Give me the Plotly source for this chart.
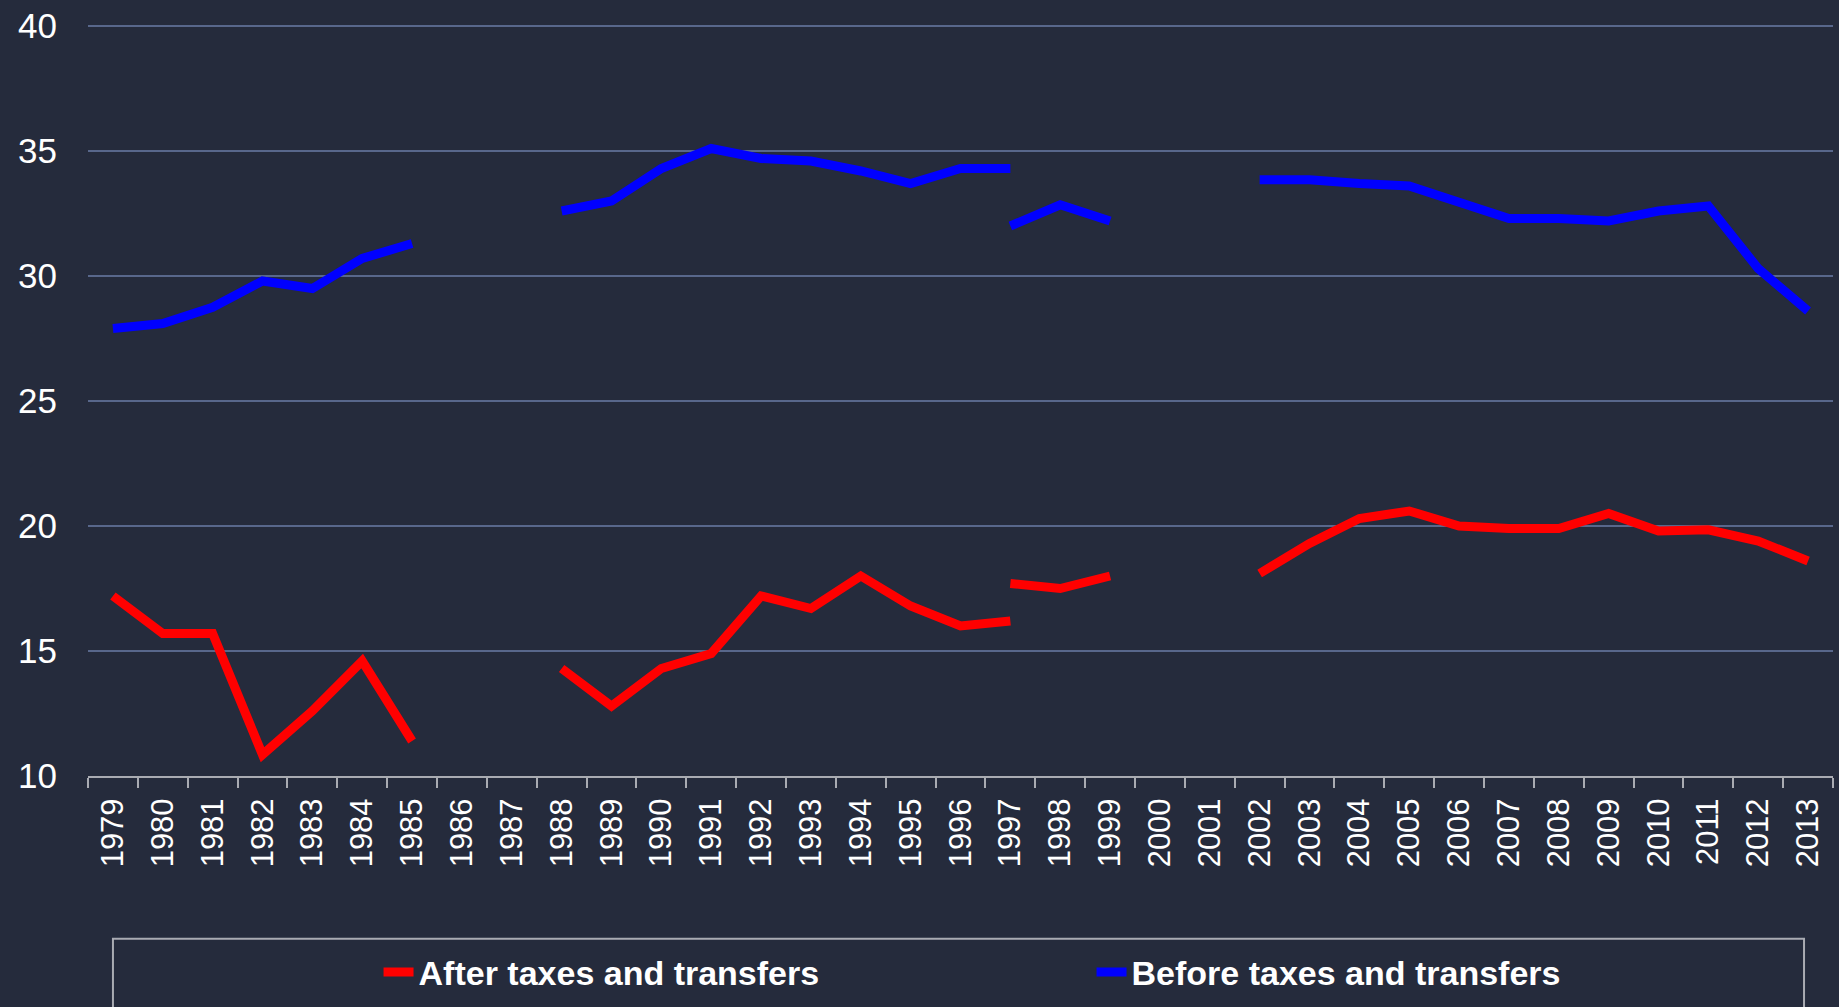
import plotly.graph_objects as go

years = [str(y) for y in range(1979, 2014)]

# First run of each series: 1979-1997 (gap 1986-1987)
years_a = [str(y) for y in range(1979, 1998)]
red_a = [17.2, 15.7, 15.7, 10.85, 12.6, 14.6, 11.4, None, None,
         14.3, 12.8, 14.3, 14.9, 17.2, 16.7, 18.0, 16.8, 16.0, 16.2]
blue_a = [27.9, 28.1, 28.75, 29.8, 29.5, 30.7, 31.3, None, None,
          32.6, 33.0, 34.3, 35.1, 34.7, 34.6, 34.2, 33.7, 34.3, 34.3]

# Second run: 1997-2013 (gap 2000-2001)
years_b = [str(y) for y in range(1997, 2014)]
red_b = [17.7, 17.5, 18.0, None, None,
         18.1, 19.3, 20.3, 20.6, 20.0, 19.9, 19.9, 20.5, 19.8, 19.85, 19.4, 18.6]
blue_b = [32.0, 32.85, 32.2, None, None,
          33.85, 33.85, 33.7, 33.6, 32.95, 32.3, 32.3, 32.2, 32.6, 32.8, 30.3, 28.6]

BG = "#252b3c"
RED = "#ff0000"
BLUE = "#0000ff"
GRID = "#58678b"
AXIS = "#a9abb2"

fig = go.Figure()
fig.add_trace(go.Scatter(x=years_a, y=red_a, mode="lines", name="After taxes and transfers",
                         line=dict(color=RED, width=9), legendgroup="after", connectgaps=False))
fig.add_trace(go.Scatter(x=years_a, y=blue_a, mode="lines", name="Before taxes and transfers",
                         line=dict(color=BLUE, width=9), legendgroup="before", connectgaps=False))
fig.add_trace(go.Scatter(x=years_b, y=red_b, mode="lines", name="After taxes and transfers",
                         line=dict(color=RED, width=9), legendgroup="after", showlegend=False,
                         connectgaps=False))
fig.add_trace(go.Scatter(x=years_b, y=blue_b, mode="lines", name="Before taxes and transfers",
                         line=dict(color=BLUE, width=9), legendgroup="before", showlegend=False,
                         connectgaps=False))

fig.update_layout(
    width=1839, height=1007,
    paper_bgcolor=BG, plot_bgcolor=BG,
    margin=dict(l=88, r=6, t=14, b=229),
    font=dict(family="Liberation Sans, Arial, sans-serif", color="#ffffff"),
    showlegend=True,
    legend=dict(
        orientation="h", x=0.1665, xanchor="left", y=-0.259, yanchor="middle",
        font=dict(family="Liberation Sans Narrow, Arial Narrow, Liberation Sans, sans-serif",
                  size=34, color="#ffffff", weight="bold"),
        entrywidth=668, entrywidthmode="pixels",
        bgcolor="rgba(0,0,0,0)", borderwidth=0, traceorder="normal",
    ),
    shapes=[dict(type="rect", xref="paper", yref="paper",
                 x0=0.0143, x1=0.9834, y0=-0.2147, y1=-0.34,
                 line=dict(color=AXIS, width=2), fillcolor="rgba(0,0,0,0)", layer="below")],
)

fig.update_xaxes(
    type="category", categoryorder="array", categoryarray=years,
    range=[-0.5, len(years) - 0.5],
    tickmode="array", tickvals=years, ticktext=years,
    tickson="boundaries", ticks="outside", ticklen=10, tickwidth=2, tickcolor=AXIS,
    showline=True, linecolor=AXIS, linewidth=2,
    showgrid=False, zeroline=False,
    tickangle=-90, tickfont=dict(size=31, color="#ffffff"),
    ticklabelstandoff=8,
)
fig.update_yaxes(
    range=[10, 40.32], dtick=5, tick0=10,
    showgrid=True, gridcolor=GRID, gridwidth=2,
    showline=False, zeroline=False, ticks="",
    tickfont=dict(size=35, color="#ffffff"),
    ticklabelstandoff=30,
)

fig.write_html(
    "out.html",
    config={"displayModeBar": False},
    post_script="document.body.style.margin='0';document.body.style.background='" + BG + "';",
)
